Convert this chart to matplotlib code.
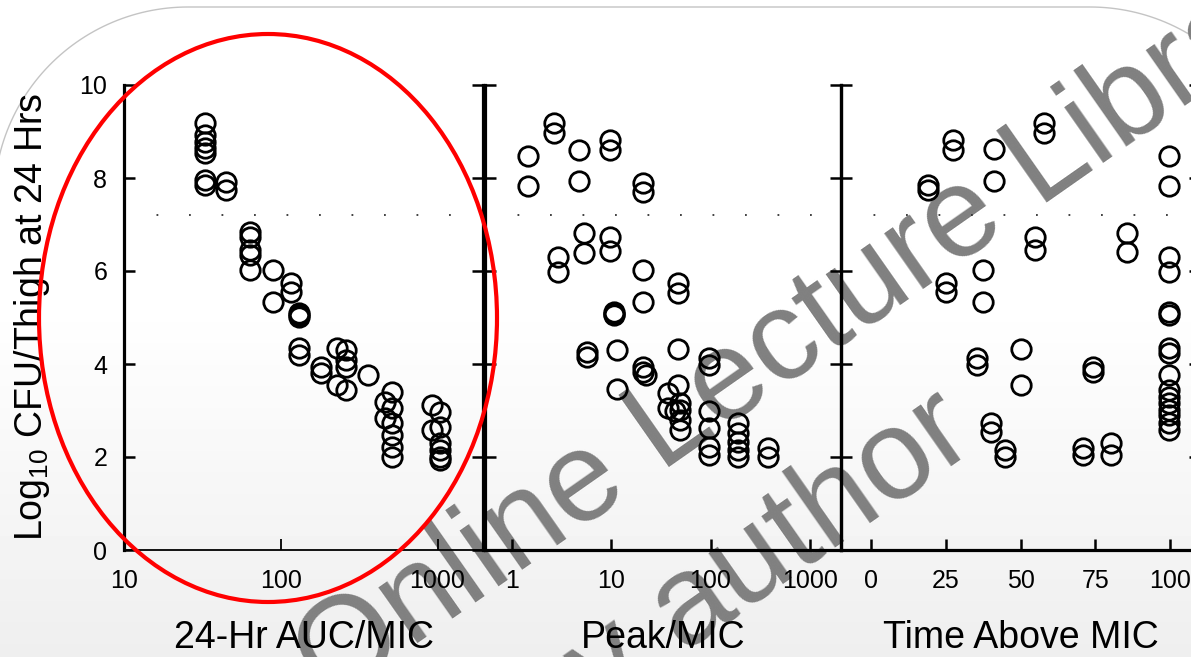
import numpy as np
import matplotlib
matplotlib.use('Agg')
import matplotlib.pyplot as plt
from matplotlib.patches import Ellipse, Polygon
from matplotlib.ticker import NullLocator

# --- data ---
auc_x = [33, 33, 33, 33, 33, 33, 33,
         45, 45,
         64, 64, 64, 64, 64,
         89, 89,
         116, 116,
         130, 130, 130, 130, 130,
         180, 180,
         227, 227,
         259, 259, 259, 259,
         358,
         459, 459,
         516, 516, 516, 516, 516, 516,
         916, 916,
         1030, 1030, 1030, 1030, 1030, 1030]
auc_y = [9.18, 8.92, 8.77, 8.64, 8.54, 7.96, 7.85,
         7.91, 7.74,
         6.84, 6.73, 6.45, 6.34, 6.02,
         6.02, 5.33,
         5.74, 5.55,
         5.10, 5.05, 5.01, 4.34, 4.19,
         3.93, 3.81,
         4.34, 3.55,
         4.30, 4.09, 3.94, 3.44,
         3.76,
         3.18, 2.84,
         3.40, 3.05, 2.73, 2.47, 2.22, 2.00,
         3.12, 2.58,
         2.97, 2.65, 2.30, 2.15, 2.00, 1.94]

peak_x = [1.45, 1.45, 2.64, 2.64, 2.9, 2.9, 4.8, 4.8, 5.3, 5.3, 5.7, 5.7,
          9.7, 9.7, 9.7, 9.7, 10.6, 10.6, 10.6, 11.4, 11.4,
          21, 21, 21, 21, 21, 21, 22.7,
          37, 37, 43.6, 46.6, 46.6, 46.6, 46.6, 48.8, 48.8, 48.8, 48.8,
          95.5, 95.5, 95.5, 95.5, 95.5, 95.5,
          190, 190, 190, 190, 190, 382, 382]
peak_y = [8.47, 7.83, 9.18, 8.97, 6.30, 5.98, 8.60, 7.94, 6.82, 6.39, 4.26, 4.15,
          8.82, 8.60, 6.73, 6.43, 5.12, 5.08, 5.05, 4.30, 3.46,
          7.89, 7.70, 6.02, 5.33, 3.94, 3.83, 3.76,
          3.38, 3.05, 3.00, 5.74, 5.53, 4.32, 3.55, 3.16, 3.01, 2.80, 2.58,
          4.13, 3.98, 2.99, 2.62, 2.22, 2.04,
          2.73, 2.52, 2.32, 2.15, 2.00, 2.19, 2.00]

tam_x = [19, 19, 27.6, 27.6, 25, 25, 35.3, 35.3, 37.3, 37.3, 41, 41,
         40.3, 40.3, 44.7, 44.7, 50, 50, 55, 55, 58, 58,
         71, 71, 74.3, 74.3, 80.3, 80.3, 85.7, 85.7,
         99.5, 99.5, 99.5, 99.5, 99.5, 99.5, 99.5, 99.5,
         99.5, 99.5, 99.5, 99.5, 99.5, 99.5, 99.5, 99.5]
tam_y = [7.85, 7.74, 8.82, 8.60, 5.74, 5.55, 4.13, 3.98, 6.02, 5.33, 8.62, 7.93,
         2.73, 2.54, 2.15, 2.00, 4.32, 3.55, 6.73, 6.45, 9.18, 8.97,
         2.19, 2.04, 3.94, 3.83, 2.30, 2.04, 6.82, 6.41,
         8.47, 7.83, 6.30, 5.98, 5.12, 5.05, 4.34, 4.24,
         3.76, 3.44, 3.29, 3.16, 3.01, 2.90, 2.73, 2.58]

stasis_line = 7.2
x_labels = ['24-Hr AUC/MIC', 'Peak/MIC', 'Time Above MIC']
auc_ticks = [10, 100, 1000]
peak_ticks = [1, 10, 100, 1000]
tam_ticks = [0, 25, 50, 75, 100]
y_ticks = [0, 2, 4, 6, 8, 10]

W, H = 1191, 657

plt.rcParams['font.family'] = ['Liberation Sans', 'DejaVu Sans']
plt.rcParams['mathtext.default'] = 'regular'

fig = plt.figure(figsize=(W / 100, H / 100), dpi=100)
fig.patch.set_facecolor('white')


def px_box(x0, x1, y_top, y_bot):
    return [x0 / W, 1 - y_bot / H, (x1 - x0) / W, (y_bot - y_top) / H]


def rounded_outline(x0, x1, top, bottom, r):
    # slide frame in pixel coords (y pointing down), circular corners
    t = np.linspace(np.pi, 1.5 * np.pi, 60)
    left = np.column_stack([x0 + r + r * np.cos(t), top + r + r * np.sin(t)])
    t2 = np.linspace(1.5 * np.pi, 2 * np.pi, 60)
    right = np.column_stack([x1 - r + r * np.cos(t2), top + r + r * np.sin(t2)])
    return np.vstack([[x0, bottom], left, right, [x1, bottom]])


# --- slide background: rounded box with soft gradient + watermark ---
bg = fig.add_axes([0, 0, 1, 1], zorder=-1)
bg.set_xlim(0, W)
bg.set_ylim(H, 0)
bg.axis('off')
frame = Polygon(rounded_outline(-6, 1284, 7, 900, 194), closed=True,
                facecolor='none', edgecolor='#c4c4c4', linewidth=1.0, zorder=3)
bg.add_patch(frame)
rows = np.arange(H)
shade = np.where(rows < 300, 1.0, 1.0 - 0.065 * (rows - 300) / (H - 300))
img = bg.imshow(shade[:, None], cmap='gray', vmin=0, vmax=1, extent=(0, W, H, 0),
                aspect='auto', zorder=1)
img.set_clip_path(frame)

wm = dict(fontsize=92, color='#808080', rotation=35, rotation_mode='anchor',
          ha='left', va='baseline', zorder=5)
bg.text(330, 705, 'Online Lecture Library', **wm)
bg.text(544, 752, 'by author', **wm)

# --- three panels ---
ax1 = fig.add_axes(px_box(124, 483, 85, 550))
ax2 = fig.add_axes(px_box(485, 841, 85, 550))
ax3 = fig.add_axes(px_box(841, 1200, 85, 550))

panels = [(ax1, auc_x, auc_y, auc_ticks, (10, 1950), True),
          (ax2, peak_x, peak_y, peak_ticks, (0.54, 2050), True),
          (ax3, tam_x, tam_y, tam_ticks, (-10, 110), False)]

for ax, xs, ys, ticks, xlim, logx in panels:
    ax.set_facecolor('none')
    if logx:
        ax.set_xscale('log')
    ax.plot(xs, ys, 'o', mfc='none', mec='black', ms=14, mew=2.0, zorder=3)
    ax.axhline(stasis_line, color='#333333', lw=1.3, dashes=(1, 17), zorder=2)
    ax.set_xlim(*xlim)
    ax.set_ylim(0, 10)
    ax.set_xticks(ticks)
    ax.set_xticklabels([str(t) for t in ticks])
    ax.xaxis.set_minor_locator(NullLocator())
    ax.set_yticks(y_ticks)
    ax.spines['top'].set_visible(False)
    ax.tick_params(direction='in', length=8, width=1.8, labelsize=18, pad=14,
                   left=True, right=True, top=False)
    for s in ('left', 'right', 'bottom'):
        ax.spines[s].set_linewidth(2.3)

ax1.spines['bottom'].set_linewidth(1.3)
ax1.tick_params(axis='x', width=1.3)
ax1.tick_params(axis='y', pad=12)
ax2.set_yticklabels([])
ax3.set_yticklabels([])

for ax, lab in zip((ax1, ax2, ax3), x_labels):
    pos = ax.get_position()
    cx = min(pos.x0 + pos.width / 2, 1.0)
    fig.text(cx, 1 - 648 / H, lab, fontsize=27, ha='center', va='baseline')

fig.text(42 / W, 1 - 317 / H, 'Log$_{10}$ CFU/Thigh at 24 Hrs', fontsize=27,
         rotation=90, rotation_mode='anchor', ha='center', va='baseline')

# red highlight around the AUC panel
ring = Ellipse((268 / W, 1 - 318 / H), 458 / W, 568 / H, transform=fig.transFigure,
               facecolor='none', edgecolor='#ff0000', linewidth=3.0, zorder=10)
fig.add_artist(ring)

fig.savefig('out.png', dpi=100)
